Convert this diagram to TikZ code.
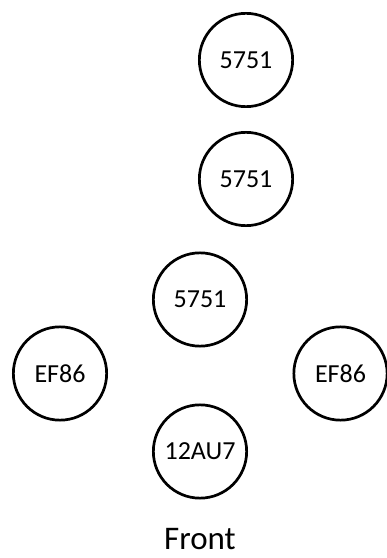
\documentclass[tikz,border=0pt]{standalone}
\usepackage{fontspec}
\setmainfont{Carlito}
\tikzset{
  tube/.style={draw, circle, line width=2.7pt, inner sep=0pt,
    minimum size=93.3pt, font=\fontsize{26}{26}\selectfont},
}
\begin{document}
\begin{tikzpicture}[x=1pt,y=1pt]
\useasboundingbox (0,0) rectangle (387,558);
\node[tube] (pwrA) at (246,498) {5751};
\node[tube] (pwrB) at (246,379) {5751};
\node[tube] (drv) at (200,258.5) {5751};
\node[tube] (pentL) at (60,184.5) {EF86};
\node[tube] (pentR) at (340.5,184.5) {EF86};
\node[tube] (inp) at (200,106.5) {12AU7};
\node[anchor=base, inner sep=0pt, font=\fontsize{33}{33}\selectfont] (front) at (200,9) {Front};
\end{tikzpicture}
\end{document}
